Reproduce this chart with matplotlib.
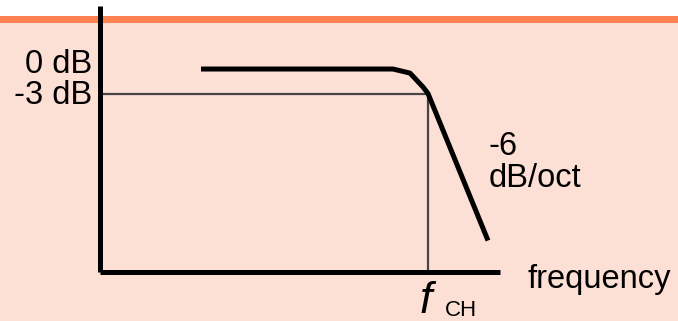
import numpy as np
import matplotlib
matplotlib.use("Agg")
import matplotlib.pyplot as plt

plt.rcParams['font.family'] = ['Liberation Sans', 'DejaVu Sans']

# response curve: octaves relative to f_CH, gain in dB
curve_oct = [-11.35, -1.75, -0.9, -0.25, 0.0, 3.0]
curve_db = [0.0, 0.0, -0.5, -2.2, -3.0, -21.0]

# axis extent (octaves / dB)
axis_left = -16.4
axis_right = 3.6
axis_floor = -24.9
axis_top = 7.7
corner_db = -3.0
corner_oct = 0.0

level_labels = ['0 dB', '-3 dB']
level_values = [0.0, -3.0]

bg = '#fde0d5'
orange = '#ff8050'

fig = plt.figure(figsize=(6.78, 3.21), dpi=100)
fig.patch.set_facecolor('white')
ax = fig.add_axes([0, 0, 1, 1])
ax.set_xlim(-21.4, 12.5)
ax.set_ylim(-30.85, 8.45)
ax.axis('off')

# background: peach panel with orange rule on top
ax.axhspan(-30.85, 6.5, color=bg, zorder=0, lw=0)
ax.axhspan(5.6, 6.5, color=orange, zorder=1, lw=0)

# guide lines at -3 dB
ax.plot([axis_left, corner_oct], [corner_db, corner_db], color='#454545', lw=1.6, zorder=2)
ax.plot([corner_oct, corner_oct], [corner_db, axis_floor], color='#454545', lw=1.6, zorder=2)

# axes
ax.plot([axis_left, axis_left], [axis_floor, axis_top], color='black', lw=3.6, zorder=3,
        solid_capstyle='butt')
ax.plot([axis_left, axis_right], [axis_floor, axis_floor], color='black', lw=3.6, zorder=3,
        solid_capstyle='butt')

# filter response
ax.plot(curve_oct, curve_db, color='black', lw=3.6, zorder=4, solid_capstyle='butt',
        solid_joinstyle='round')

fs = 23.5
ax.text(-16.8, -0.49, level_labels[0], ha='right', va='baseline', fontsize=fs)
ax.text(-16.8, -4.28, level_labels[1], ha='right', va='baseline', fontsize=fs)
ax.text(3.05, -10.5, '-6', ha='left', va='baseline', fontsize=fs)
ax.text(3.05, -14.4, 'dB/oct', ha='left', va='baseline', fontsize=fs)
ax.text(4.95, -26.8, 'frequency', ha='left', va='baseline', fontsize=fs)
ax.text(-0.4, -29.9, 'f', ha='left', va='baseline', fontsize=32, style='italic')
ax.text(0.85, -30.2, 'CH', ha='left', va='baseline', fontsize=16)

fig.savefig('out.png', dpi=100, facecolor=fig.get_facecolor())
